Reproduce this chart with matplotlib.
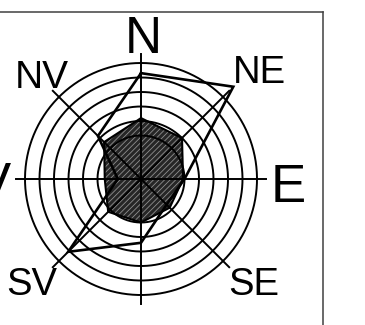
import numpy as np
import matplotlib
matplotlib.use("Agg")
import matplotlib.pyplot as plt
from matplotlib.lines import Line2D

plt.rcParams['font.family'] = ['Liberation Sans', 'DejaVu Sans']
plt.rcParams['hatch.linewidth'] = 0.6

# directions, clockwise from north (Romanian: V = vest)
directions = ['N', 'NE', 'E', 'SE', 'S', 'SV', 'V', 'NV']
inner_values = [42, 40, 29, 28, 30, 32, 25, 36]   # filled, hatched polygon
outer_values = [73, 90, 30, 25, 44, 71, 16, 42]   # open polygon
rings = [30, 40, 50, 60, 70, 80]
spoke_len = 86
rmax = 90

W, H = 365, 325
fig = plt.figure(figsize=(W / 100, H / 100), dpi=100)

# polar axes placed so that the centre sits at (141, 179) px from top-left
cx, cy = 141, H - 179
R = rmax * 1.45
ax = fig.add_axes([(cx - R) / W, (cy - R) / H, 2 * R / W, 2 * R / H], projection='polar')
ax.set_theta_zero_location('N')
ax.set_theta_direction(-1)
ax.set_ylim(0, rmax)
ax.axis('off')

theta = np.deg2rad(np.arange(0, 360, 45))
th_closed = np.append(theta, theta[0])

# hatched fill
inner = np.array(inner_values, dtype=float)
ax.fill(theta, inner, facecolor='#262626', edgecolor='none', zorder=1)
ax.fill(theta, inner, facecolor='none', edgecolor='#8f8f8f', hatch='//////', linewidth=0, zorder=1.5)

# grid rings and spokes
t = np.linspace(0, 2 * np.pi, 400)
for r in rings:
    ax.plot(t, np.full_like(t, r), color='black', lw=1.4, zorder=2)
for a in theta:
    ax.plot([a, a], [0, spoke_len], color='black', lw=1.4, zorder=2)

ax.plot(th_closed, np.append(inner, inner[0]), color='black', lw=1.5, zorder=3)
outer = np.array(outer_values, dtype=float)
ax.plot(th_closed, np.append(outer, outer[0]), color='black', lw=1.9, zorder=3,
        clip_on=False, solid_joinstyle='miter')

# direction labels (pixel position of centre / baseline, size)
label_pos = {
    'N': (143, 53, 37), 'NE': (259, 83, 27.5), 'E': (288, 202, 38),
    'SE': (254, 295, 27.5), 'SV': (32, 295, 27.5), 'V': (-7, 200, 38),
    'NV': (42, 88, 28),
}
for d in directions:
    if d not in label_pos:
        continue
    x, y, s = label_pos[d]
    fig.text(x / W, (H - y) / H, d, ha='center', va='baseline', fontsize=s, color='black')

# frame of the original (cropped) chart
fx = 323 / W
fy = (H - 12) / H
fig.add_artist(Line2D([0, fx], [fy, fy], color='#404040', lw=1.1, transform=fig.transFigure))
fig.add_artist(Line2D([fx, fx], [0, fy], color='#404040', lw=1.1, transform=fig.transFigure))

fig.savefig('out.png', dpi=100)
